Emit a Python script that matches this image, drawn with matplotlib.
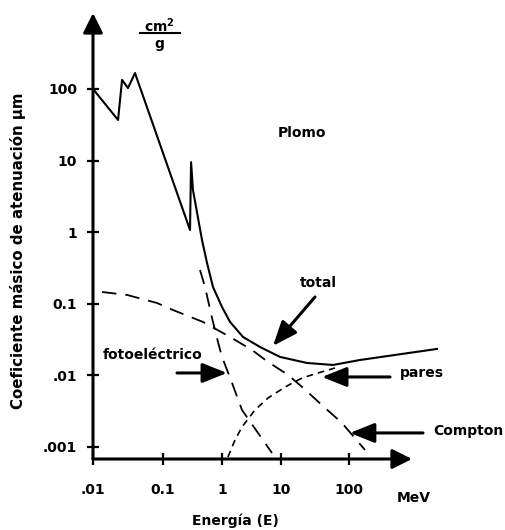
import numpy as np
import matplotlib
matplotlib.use("Agg")
import matplotlib.pyplot as plt
from matplotlib.lines import Line2D

# ---- data (energy in MeV, mu in cm2/g) ----
total_E = [0.01, 0.0228, 0.026, 0.0316, 0.0398, 0.287, 0.299, 0.322, 0.458,
           0.557, 0.703, 1.0, 1.37, 2.27, 4.41, 9.62, 24.1, 58.2, 145, 1968]
total_mu = [100, 36.9, 134, 103, 167, 1.07, 9.5, 3.88, 0.778,
            0.372, 0.172, 0.0902, 0.0557, 0.0344, 0.0249, 0.0181, 0.0149,
            0.01397, 0.0164, 0.0234]

photo_E = [0.424, 0.515, 0.677, 0.855, 1.0, 1.216, 1.48, 2.18, 4.07, 7.03]
photo_mu = [0.296, 0.172, 0.0634, 0.0292, 0.0181, 0.0119, 0.00783, 0.00329,
            0.00157, 0.000824]

compton_E = [0.01345, 0.0306, 0.082, 0.1476, 0.477, 1.37, 3.22, 6.03, 12.7,
             20.4, 44.4, 78.9, 172]
compton_mu = [0.146, 0.1328, 0.1026, 0.0818, 0.0557, 0.0344, 0.0226, 0.0154,
              0.01014, 0.00689, 0.00351, 0.00216, 0.000908]

pair_E = [1.26, 1.66, 2.18, 3.62, 6.03, 11.5, 20.4, 35, 62.2]
pair_mu = [0.000724, 0.00125, 0.0019, 0.00329, 0.00483, 0.00689, 0.0092,
           0.0108, 0.01268]

xticks = [0.01, 0.1, 1, 10, 100]
xticklabels = [".01", "0.1", "1", "10", "100"]
yticks = [0.001, 0.01, 0.1, 1, 10, 100]
yticklabels = [".001", ".01", "0.1", "1", "10", "100"]

# hand-drawn axis: decades are not evenly spaced
dec_L = np.array([-2.0, -1.0, 0.0, 1.0, 2.0])
dec_p = np.array([0.0, 70.0, 129.0, 188.0, 256.0])


def fwd(x):
    L = np.log10(np.clip(np.asarray(x, dtype=float), 1e-12, None))
    p = np.interp(L, dec_L, dec_p)
    p = np.where(L < -2, (L + 2) * 70.0, p)
    p = np.where(L > 2, 256.0 + (L - 2) * 68.0, p)
    return p


def inv(p):
    p = np.asarray(p, dtype=float)
    L = np.interp(p, dec_p, dec_L)
    L = np.where(p < 0, -2 + p / 70.0, L)
    L = np.where(p > 256, 2 + (p - 256) / 68.0, L)
    return 10 ** L


plt.rcParams['font.family'] = ['DejaVu Sans']
plt.rcParams['font.weight'] = 'bold'
plt.rcParams['mathtext.default'] = 'bf'

W, H = 505, 530
fig = plt.figure(figsize=(W / 100, H / 100), dpi=100)
ax = fig.add_axes([93 / W, 71 / H, (460 - 93) / W, (459 - 13) / H])

ax.set_xscale('function', functions=(fwd, inv))
ax.set_yscale('log')
ax.set_xlim(0.01, 10 ** 3.632)
ymin, ymax = 10 ** -3.168, 10 ** 3.061
ax.set_ylim(ymin, ymax)

ax.plot(total_E, total_mu, color='k', lw=1.5)
ax.plot(photo_E, photo_mu, color='k', lw=1.3, dashes=(8, 5))
ax.plot(compton_E, compton_mu, color='k', lw=1.3, dashes=(8, 5))
ax.plot(pair_E, pair_mu, color='k', lw=1.2, dashes=(4, 3))

for s in ax.spines.values():
    s.set_visible(False)
ax.set_facecolor('none')

# axis lines with arrowheads
axis_arrow = dict(arrowstyle='-|>,head_length=0.6,head_width=0.3', lw=2.2,
                  color='k', mutation_scale=20, shrinkA=0, shrinkB=0)
ax.annotate('', xy=(0.01, ymax), xytext=(0.01, ymin), arrowprops=axis_arrow)
ax.annotate('', xy=(10 ** 2.926, ymin), xytext=(0.01, ymin), arrowprops=axis_arrow)

ax.set_xticks(xticks)
ax.set_xticklabels(xticklabels)
ax.set_yticks(yticks)
ax.set_yticklabels(yticklabels)
ax.minorticks_off()
ax.tick_params(axis='both', direction='inout', length=9, width=1.6,
               labelsize=10)
ax.tick_params(axis='x', pad=13)
ax.tick_params(axis='y', pad=7)
for t in ax.get_xticklabels() + ax.get_yticklabels():
    t.set_fontweight('bold')

# labels
txt = dict(fontsize=10, fontweight='bold', ha='center', va='center')
ax.text(20.4, 24.3, "Plomo", **txt)
ax.text(35, 0.195, "total", **txt)
ax.text(1180, 0.0108, "pares", **txt)
ax.text(5620, 0.00167, "Compton", clip_on=False, **txt)
ax.text(0.072, 0.0193, "fotoeléctrico", **txt)

arr = dict(arrowstyle='-|>,head_length=0.75,head_width=0.3', lw=2.2,
           color='k', mutation_scale=20, shrinkA=0, shrinkB=0)
ax.annotate('', xy=(7.31, 0.0258), xytext=(31.6, 0.1245), arrowprops=arr)
ax.annotate('', xy=(1.216, 0.0108), xytext=(0.1726, 0.0108), arrowprops=arr)
ax.annotate('', xy=(40.1, 0.0095), xytext=(401, 0.0095), arrowprops=arr)
ax.annotate('', xy=(103, 0.00157), xytext=(1225, 0.00157), arrowprops=arr)

# units and axis titles
fig.text(159 / W, 1 - 26 / H, r"cm$^{2}$", **txt)
fig.text(159 / W, 1 - 44 / H, "g", **txt)
fig.add_artist(Line2D([140 / W, 180 / W], [1 - 33 / H, 1 - 33 / H],
                      color='k', lw=1.5))
fig.text(414 / W, 1 - 498 / H, "MeV", **txt)
fig.text(235 / W, 1 - 521 / H, "Energía (E)", **txt)
fig.text(18 / W, 1 - 251 / H, "Coeficiente másico de atenuación μm",
         rotation=90, fontsize=10.8, fontweight='bold', ha='center',
         va='center')

fig.savefig("out.png", dpi=100)
